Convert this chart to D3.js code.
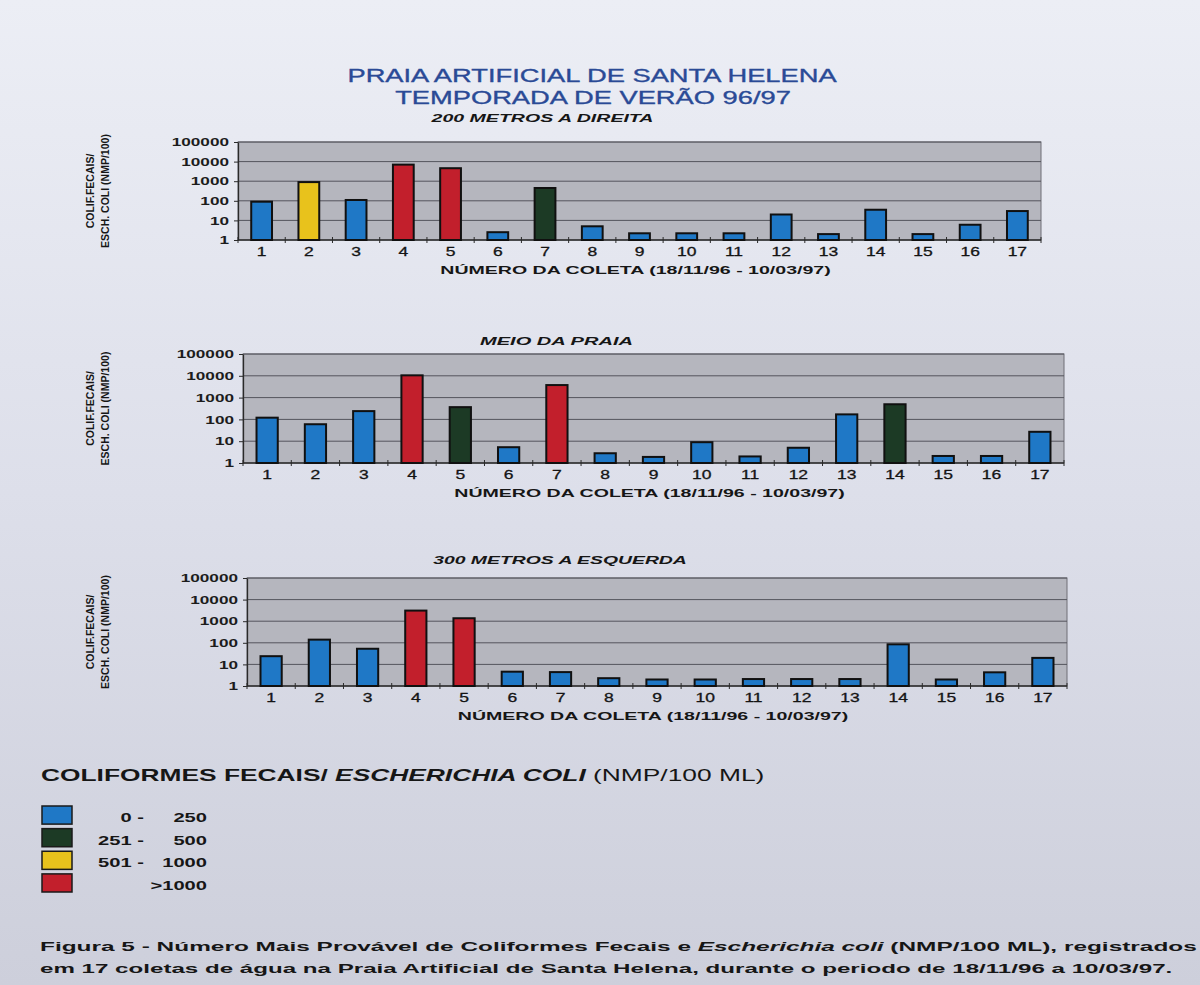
<!DOCTYPE html>
<html>
<head>
<meta charset="utf-8">
<script src="https://cdn.jsdelivr.net/npm/d3@7"></script>
<style>
html, body { margin: 0; padding: 0; }
body { width: 1200px; height: 985px; overflow: hidden; background: #dfe0ea; }
svg { display: block; font-family: "Liberation Sans", Arial, sans-serif; }
</style>
</head>
<body>
<svg id="chart" width="1200" height="985"></svg>
<script>
// coletas 1..17
const coletas = ["1","2","3","4","5","6","7","8","9","10","11","12","13","14","15","16","17"];

// NMP/100 mL (log scale)
const direita  = [90, 900, 110, 7000, 4600, 2.5, 450, 5, 2.2, 2.2, 2.2, 20, 2, 35, 2, 6, 30];
const meio     = [120, 60, 240, 10500, 365, 5.3, 3760, 2.8, 1.9, 9, 2, 5, 170, 495, 2.1, 2.1, 27];
const esquerda = [24, 140, 53, 3100, 1370, 4.6, 4.4, 2.3, 2, 2, 2.1, 2.1, 2.1, 85, 2, 4.3, 20];

const yTicks = [1, 10, 100, 1000, 10000, 100000];

// legend classes
const faixaDe   = ["0 -", "251 -", "501 -", ""];
const faixaAte  = ["250", "500", "1000", ">1000"];
const faixaCores = ["#1f78c6", "#1c3a25", "#e8c21c", "#c21f2c"];
const faixaLimites = [251, 501, 1001];

const cor = d3.scaleThreshold().domain(faixaLimites).range(faixaCores);

const svg = d3.select("#chart");

// page background (photo of a sheet)
const defs = svg.append("defs");
const bg = defs.append("linearGradient").attr("id", "paper")
    .attr("x1", "0%").attr("y1", "0%").attr("x2", "0%").attr("y2", "100%");
bg.append("stop").attr("offset", "0%").attr("stop-color", "#eceef5");
bg.append("stop").attr("offset", "50%").attr("stop-color", "#dddfea");
bg.append("stop").attr("offset", "100%").attr("stop-color", "#cdcfdb");
svg.append("rect").attr("width", 1200).attr("height", 985).attr("fill", "url(#paper)");

// text helper: photo is stretched sideways, so glyphs get a horizontal scale
function txt(g, x, y, s, size, o = {}) {
    const t = g.append("text")
        .attr("transform", `translate(${x},${y})`)
        .attr("text-anchor", o.anchor || "middle")
        .attr("fill", o.fill || "#161616")
        .style("font-size", size + "px")
        .style("font-weight", o.weight || "bold")
        .style("font-style", o.italic ? "italic" : "normal");
    if (s !== null) t.text(s);
    return t;
}
function stretch(t, x, y, k) {
    t.attr("transform", `translate(${x},${y}) scale(${k},1)`);
    return t;
}
function fit(t, x, y, w) {
    const k = w / t.node().getComputedTextLength();
    stretch(t, x, y, k);
    return k;
}

// main title
const azul = "#2a4a96";
const t2 = txt(svg, 593, 104, "TEMPORADA DE VERÃO 96/97", 19, { weight: "normal", fill: azul })
    .attr("stroke", azul).attr("stroke-width", 0.35);
const kt = fit(t2, 593, 104, 396);
stretch(txt(svg, 592, 82, "PRAIA ARTIFICIAL DE SANTA HELENA", 19, { weight: "normal", fill: azul })
    .attr("stroke", azul).attr("stroke-width", 0.35), 592, 82, kt);

const panels = [
    { title: "200 METROS A DIREITA",  values: direita,  x0: 238, x1: 1041, top: 142, bottom: 240, titleY: 122, titleW: 222 },
    { title: "MEIO DA PRAIA",         values: meio,     x0: 243, x1: 1064, top: 354, bottom: 463, titleY: 345, titleW: 153 },
    { title: "300 METROS A ESQUERDA", values: esquerda, x0: 247, x1: 1067, top: 578, bottom: 686, titleY: 564, titleW: 254 }
];

panels.forEach(p => {
    const g = svg.append("g");

    const x = d3.scaleBand()
        .domain(coletas)
        .range([p.x0, p.x1])
        .paddingInner(0.56)
        .paddingOuter(0.28);

    const y = d3.scaleLog()
        .domain([1, 100000])
        .range([p.bottom, p.top]);

    // plot area
    g.append("rect")
        .attr("x", p.x0).attr("y", p.top)
        .attr("width", p.x1 - p.x0).attr("height", p.bottom - p.top)
        .attr("fill", "#b5b6be")
        .attr("stroke", "#6e6f77").attr("stroke-width", 1);

    // gridlines
    g.selectAll(".grid")
        .data(yTicks.slice(1))
        .enter().append("line")
        .attr("x1", p.x0).attr("x2", p.x1)
        .attr("y1", d => y(d)).attr("y2", d => y(d))
        .attr("stroke", "#54555d").attr("stroke-width", 1);

    // y axis
    const ya = g.append("g")
        .attr("transform", `translate(${p.x0},0)`)
        .call(d3.axisLeft(y).tickValues(yTicks).tickFormat(d3.format("d")).tickSize(4).tickSizeOuter(0));
    ya.select(".domain").attr("stroke", "#2a2a2a").attr("stroke-width", 1.3);
    ya.selectAll(".tick line").attr("stroke", "#2a2a2a");
    ya.selectAll(".tick text")
        .attr("dy", "0.36em")
        .attr("fill", "#1c1c1c")
        .style("font-size", "10px").style("font-weight", "bold")
        .style("font-family", "'Liberation Sans', Arial, sans-serif")
        .attr("transform", "scale(1.72,1)")
        .attr("x", -9 / 1.72);

    // x axis line + boundary ticks
    g.append("line")
        .attr("x1", p.x0).attr("x2", p.x1)
        .attr("y1", p.bottom).attr("y2", p.bottom)
        .attr("stroke", "#2a2a2a").attr("stroke-width", 1.3);
    g.selectAll(".xt")
        .data(d3.range(coletas.length + 1))
        .enter().append("line")
        .attr("x1", i => p.x0 + i * x.step()).attr("x2", i => p.x0 + i * x.step())
        .attr("y1", p.bottom - 3).attr("y2", p.bottom + 3)
        .attr("stroke", "#2a2a2a").attr("stroke-width", 1);

    // bars
    g.selectAll(".bar")
        .data(p.values)
        .enter().append("rect")
        .attr("x", (d, i) => x(coletas[i]))
        .attr("y", d => y(d))
        .attr("width", x.bandwidth())
        .attr("height", d => y(1) - y(d))
        .attr("fill", d => cor(d))
        .attr("stroke", "#101010").attr("stroke-width", 2);

    // x tick labels
    coletas.forEach(c => {
        const cx = x(c) + x.bandwidth() / 2;
        stretch(txt(g, cx, p.bottom + 16, c, 12.5, { weight: "normal", fill: "#141414" })
            .attr("stroke", "#141414").attr("stroke-width", 0.3), cx, p.bottom + 16, 1.4);
    });

    // titles
    const cx = (p.x0 + p.x1) / 2;
    fit(txt(g, cx - 97, p.titleY, p.title, 11, { italic: true }), cx - 97, p.titleY, p.titleW);
    fit(txt(g, cx - 4, p.bottom + 34, "NÚMERO DA COLETA (18/11/96 - 10/03/97)", 11), cx - 4, p.bottom + 34, 391);

    const my = (p.top + p.bottom) / 2;
    g.append("text")
        .attr("transform", `translate(94,${my}) rotate(-90)`)
        .attr("text-anchor", "middle")
        .style("font-size", "10.5px").style("font-weight", "bold")
        .attr("fill", "#161616")
        .text("COLIF.FECAIS/");
    g.append("text")
        .attr("transform", `translate(109,${my}) rotate(-90)`)
        .attr("text-anchor", "middle")
        .style("font-size", "10.5px").style("font-weight", "bold")
        .attr("fill", "#161616")
        .text("ESCH. COLI (NMP/100)");
});

// legend
const lt = txt(svg, 41, 781, null, 16.5, { anchor: "start" });
lt.append("tspan").text("COLIFORMES  FECAIS/ ");
lt.append("tspan").style("font-style", "italic").text("ESCHERICHIA COLI");
lt.append("tspan").style("font-weight", "normal").text(" (NMP/100 ML)");
fit(lt, 41, 781, 724);

const leg = svg.append("g");
const legY = d3.scaleBand().domain(d3.range(faixaCores.length)).range([806, 892]).paddingInner(0.2);
faixaCores.forEach((c, i) => {
    leg.append("rect")
        .attr("x", 42).attr("y", legY(i))
        .attr("width", 30).attr("height", legY.bandwidth())
        .attr("fill", c).attr("stroke", "#1a1a1a").attr("stroke-width", 1.5);
    const by = legY(i) + legY.bandwidth() - 2;
    if (faixaDe[i]) stretch(txt(leg, 144, by, faixaDe[i], 13, { anchor: "end" }), 144, by, 1.55);
    stretch(txt(leg, 207, by, faixaAte[i], 13, { anchor: "end" }), 207, by, 1.55);
});

// caption
const c1 = txt(svg, 40, 951, null, 13.5, { anchor: "start" });
c1.append("tspan").text("Figura 5 - Número Mais Provável de Coliformes Fecais e ");
c1.append("tspan").style("font-style", "italic").text("Escherichia coli");
c1.append("tspan").text(" (NMP/100 ML), registrados");
fit(c1, 40, 951, 1157);
const c2 = txt(svg, 40, 973, "em 17 coletas de água na Praia Artificial de Santa Helena, durante o periodo de 18/11/96 a 10/03/97.", 13.5, { anchor: "start" });
fit(c2, 40, 973, 1133);
</script>
</body>
</html>
